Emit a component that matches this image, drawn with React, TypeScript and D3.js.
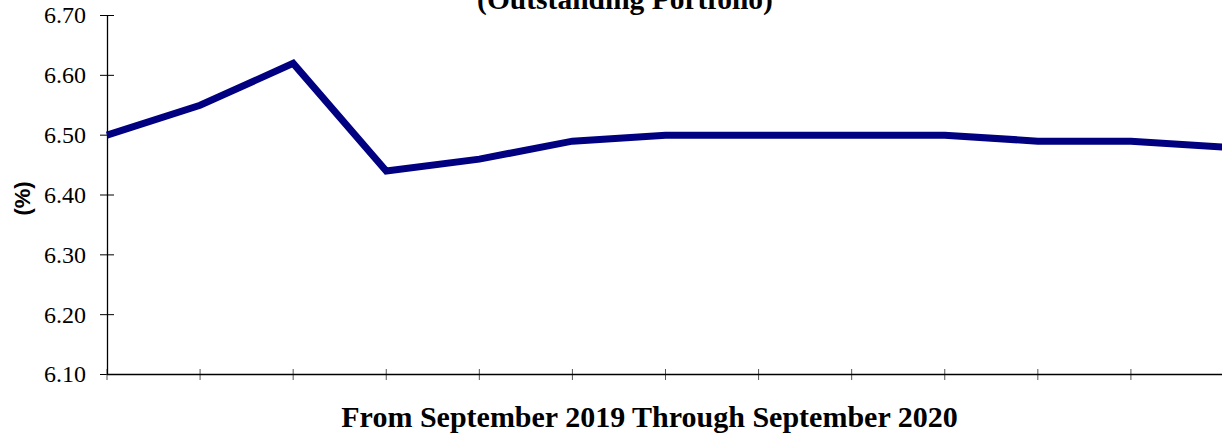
import React from "react";
import * as d3 from "d3";

const months = ["Sep 2019", "Oct 2019", "Nov 2019", "Dec 2019", "Jan 2020", "Feb 2020", "Mar 2020", "Apr 2020", "May 2020", "Jun 2020", "Jul 2020", "Aug 2020", "Sep 2020"];
const rates = [6.50, 6.55, 6.62, 6.44, 6.46, 6.49, 6.50, 6.50, 6.50, 6.50, 6.49, 6.49, 6.48];
const yTicks = [6.10, 6.20, 6.30, 6.40, 6.50, 6.60, 6.70];
const title = "(Outstanding Portfolio)";
const xTitle = "From September 2019 Through September 2020";
const yTitle = "(%)";

const W = 1222;
const H = 438;

export default function App() {
  const x = d3.scalePoint<string>().domain(months).range([107, 1224]);
  const y = d3.scaleLinear().domain([6.1, 6.7]).range([374.5, 15.5]);
  const line = d3
    .line<number>()
    .x((_, i) => x(months[i]) as number)
    .y((d) => y(d));
  const serif = "'Liberation Serif', 'Times New Roman', serif";
  return (
    <svg width={W} height={H} style={{ position: "absolute", left: 0, top: 0, background: "#fff" }}>
      <text x={625} y={9} textAnchor="middle" fontFamily={serif} fontWeight="bold" fontSize={29.5}>
        {title}
      </text>
      {yTicks.map((t) => (
        <g key={t}>
          <line x1={100} x2={114} y1={y(t)} y2={y(t)} stroke="#000" strokeWidth={1} />
          <text x={86} y={y(t)} dy="0.33em" textAnchor="end" fontFamily={serif} fontSize={24}>
            {t.toFixed(2)}
          </text>
        </g>
      ))}
      {months.map((m) => (
        <line key={m} x1={x(m)} x2={x(m)} y1={369} y2={380} stroke="#555" strokeWidth={1} />
      ))}
      <line x1={107.5} x2={107.5} y1={15} y2={375} stroke="#000" strokeWidth={1.3} />
      <line x1={107} x2={W} y1={374.5} y2={374.5} stroke="#000" strokeWidth={1.3} />
      <path d={line(rates) as string} fill="none" stroke="#000080" strokeWidth={7} strokeLinejoin="miter" />
      <text x={649.5} y={427} textAnchor="middle" fontFamily={serif} fontWeight="bold" fontSize={30}>
        {xTitle}
      </text>
      <text
        transform={`translate(30,198.5) rotate(-90)`}
        textAnchor="middle"
        fontFamily="'Liberation Sans', Arial, sans-serif"
        fontWeight="bold"
        fontSize={22}
      >
        {yTitle}
      </text>
    </svg>
  );
}
